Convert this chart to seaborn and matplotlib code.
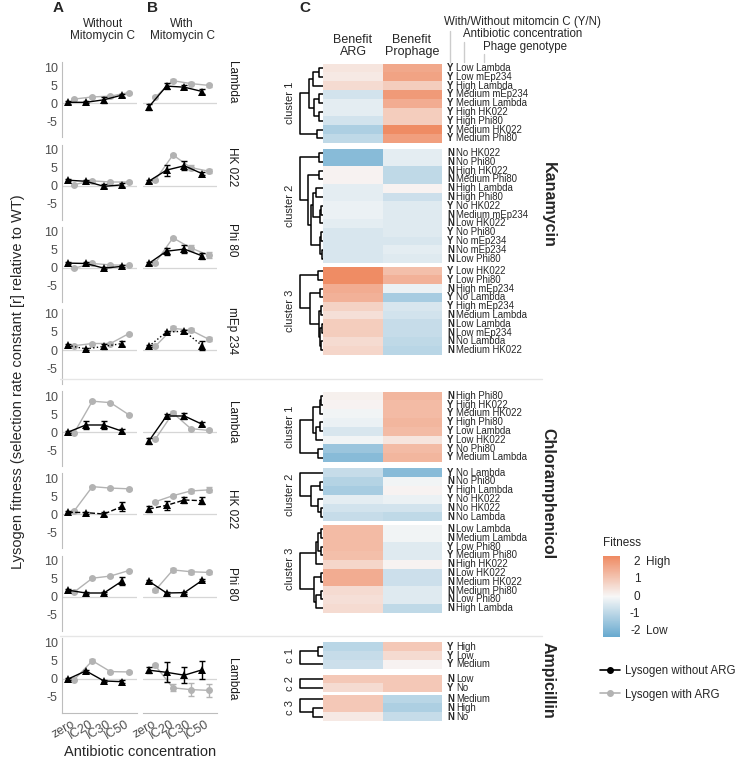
import numpy as np
import pandas as pd
import matplotlib.pyplot as plt
import seaborn as sns
from matplotlib.colors import LinearSegmentedColormap
from matplotlib.lines import Line2D
from matplotlib.transforms import blended_transform_factory

sns.set_style("white")
plt.rcParams['font.family'] = ['Liberation Sans', 'DejaVu Sans']
plt.rcParams['axes.unicode_minus'] = False

W, H = 747, 762

# ---------------- data: panels A / B ----------------
concs = ["zero", "IC20", "IC30", "IC50"]
row_phages = ["Lambda", "HK 022", "Phi 80", "mEp 234", "Lambda", "HK 022", "Phi 80", "Lambda"]

# mean fitness, A = without mitomycin C, B = with mitomycin C
noarg_A = [[0.3, 0.3, 1.0, 2.3], [1.5, 1.2, -0.2, 0.2], [1.3, 1.2, -0.1, 0.4], [1.3, 0.3, 1.0, 1.8],
           [0.0, 2.0, 2.0, 0.3], [0.6, 0.5, 0.1, 2.2], [1.8, 1.0, 1.0, 4.3], [-0.1, 2.2, -0.6, -0.8]]
arg_A = [[1.2, 1.8, 2.0, 3.0], [0.3, 1.3, 1.0, 1.0], [-0.1, 1.2, 0.8, 0.7], [1.2, 1.8, 1.8, 4.5],
         [-0.1, 8.6, 8.2, 4.9], [1.0, 7.7, 7.3, 7.1], [1.3, 5.1, 5.7, 7.2], [-0.2, 5.0, 2.0, 1.9]]
noarg_B = [[-1.0, 4.8, 4.5, 3.3], [1.2, 4.3, 5.5, 3.3], [1.2, 4.6, 5.2, 3.3], [1.0, 5.0, 5.2, 1.2],
           [-2.5, 4.5, 4.5, 2.2], [1.5, 2.5, 4.0, 3.8], [4.3, 1.0, 1.1, 4.5], [2.4, 1.8, 1.0, 2.5]]
arg_B = [[1.7, 6.3, 5.5, 5.0], [1.5, 8.5, 5.0, 4.0], [1.3, 8.3, 5.5, 3.5], [1.0, 6.0, 5.5, 3.0],
         [-2.0, 5.3, 1.0, 0.5], [3.5, 5.2, 6.5, 6.8], [1.7, 7.4, 6.9, 6.7], [3.7, -2.5, -3.0, -3.2]]

# standard errors
noarg_A_se = [[0.4, 0.3, 0.8, 0.4], [0.3, 0.3, 0.6, 0.6], [0.3, 0.3, 0.3, 0.3], [0.3, 0.3, 0.6, 0.6],
              [0.3, 1.2, 1.2, 0.5], [0.3, 0.3, 0.6, 1.2], [0.3, 0.4, 0.4, 1.2], [0.3, 0.3, 0.4, 0.5]]
arg_A_se = [[0.2, 0.2, 0.4, 0.3], [0.2, 0.2, 0.2, 0.2], [0.2, 0.2, 0.2, 0.2], [0.2, 0.2, 0.2, 0.2],
            [0.2, 0.2, 0.2, 0.2], [0.2, 0.2, 0.2, 0.2], [0.2, 0.2, 0.2, 0.2], [0.2, 0.4, 0.3, 0.3]]
noarg_B_se = [[0.8, 0.8, 0.5, 0.6], [0.4, 1.5, 1.3, 0.4], [0.3, 1.0, 1.0, 0.8], [0.3, 0.4, 0.4, 1.2],
              [0.8, 0.6, 0.8, 0.6], [0.8, 1.2, 0.8, 1.0], [0.3, 0.3, 0.3, 0.3], [0.8, 2.8, 2.3, 2.5]]
arg_B_se = [[0.3, 0.5, 0.4, 0.5], [0.3, 0.3, 0.6, 0.5], [0.2, 0.3, 0.8, 0.8], [0.3, 0.6, 0.5, 0.6],
            [0.3, 0.6, 0.3, 0.3], [0.3, 0.3, 0.6, 0.7], [0.4, 0.5, 0.6, 0.3], [0.5, 1.0, 1.8, 1.8]]

noarg_style = ['-', '-', '-', ':', '-', '--', '-', '-']

# ---------------- data: panel C heatmaps ----------------
kan_sizes = [9, 13, 10]
kan_mito = list("YYYYYYYYY") + list("NNNNNNYNNYYNN") + list("YYNYYNNNNN")
kan_labels = ["Low Lambda", "Low mEp234", "High Lambda", "Medium mEp234", "Medium Lambda", "High HK022",
              "High Phi80", "Medium HK022", "Medium Phi80",
              "No HK022", "No Phi80", "High HK022", "Medium Phi80", "High Lambda", "High Phi80", "No HK022",
              "Medium mEp234", "Low HK022", "No Phi80", "No mEp234", "No mEp234", "Low Phi80",
              "Low HK022", "Low Phi80", "High mEp234", "No Lambda", "High mEp234", "Medium Lambda",
              "Low Lambda", "Low mEp234", "No Lambda", "Medium HK022"]
kan_arg = [0.4, 0.3, 0.6, -0.6, -0.3, -0.3, -0.6, -1.2, -0.9,
           -1.8, -1.8, 0.1, 0.1, -0.3, -0.3, -0.2, -0.2, -0.3, -0.5, -0.5, -0.5, -0.5,
           2.3, 2.3, 1.6, 1.5, 0.8, 0.5, 0.9, 0.9, 0.6, 0.7]
kan_pro = [1.7, 1.8, 0.9, 2.0, 1.6, 0.9, 0.9, 2.3, 1.9,
           -0.3, -0.3, -0.9, -0.9, 0.1, -0.7, -0.4, -0.4, -0.4, -0.4, -0.5, -0.3, -0.4,
           1.2, 1.5, -0.2, -1.3, -0.5, -0.6, -0.8, -0.8, -0.9, -1.0]
kan_trees = [((((0, 1, .17), 2, .43), ((3, 4, .17), (5, 6, .17), .4), .62), (7, 8, .26), 1.0),
             ((0, 1, .17), ((2, 3, .17), (((4, 5, .3), ((6, 7, .08), 8, .14), .42),
                                          ((9, 10, .08), (11, 12, .06), .14), .5), .65), 1.0),
             ((0, 1, .2), ((2, 3, .12), ((4, 5, .1), ((6, 7, .06), (8, 9, .08), .12), .18), .55), 1.0)]

chl_sizes = [8, 6, 10]
chl_mito = list("NYYYYYYY") + list("YNYYNN") + list("NNYYNNNNNN")
chl_labels = ["High Phi80", "High HK022", "Medium HK022", "High Phi80", "Low Lambda", "Low HK022",
              "No Phi80", "Medium Lambda",
              "No Lambda", "No Phi80", "High Lambda", "No HK022", "No HK022", "No Lambda",
              "Low Lambda", "Medium Lambda", "Low Phi80", "Medium Phi80", "High HK022", "Low HK022",
              "Medium HK022", "Medium Phi80", "Low Phi80", "High Lambda"]
chl_arg = [0.15, 0.1, -0.1, -0.2, -0.5, -0.1, -1.5, -1.8,
           -0.8, -1.1, -1.3, -0.3, -0.6, -0.8,
           1.3, 1.3, 1.3, 1.2, 0.7, 1.6, 1.6, 0.6, 0.5, 0.6]
chl_pro = [1.4, 1.3, 1.3, 1.4, 1.3, 0.4, 1.3, 1.4,
           -1.8, -0.1, 0.1, -0.2, -0.6, -0.9,
           -0.1, -0.1, -0.4, -0.4, 0.1, -0.7, -0.7, -0.4, -0.4, -0.9]
chl_trees = [((((0, 1, .08), 2, .12), ((3, 4, .12), 5, .3), .45), (6, 7, .2), 1.0),
             (0, ((1, 2, .12), (3, (4, 5, .08), .2), .5), 1.0),
             ((((0, 1, .08), (2, 3, .1), .22), 4, .3), ((5, 6, .1), ((7, 8, .08), 9, .3), .4), 1.0)]

amp_sizes = [3, 2, 3]
amp_mito = list("YYY") + list("NY") + list("NNN")
amp_labels = ["High", "Low", "Medium", "Low", "No", "Medium", "High", "No"]
amp_arg = [-1.0, -0.8, -0.7, 1.0, 0.6, 1.0, 1.0, 0.3]
amp_pro = [1.0, 0.6, 0.1, 1.0, 1.0, -1.0, -1.2, -0.8]
amp_trees = [((0, 1, .2), 2, 1.0), (0, 1, 1.0), (0, (1, 2, .45), 1.0)]

fit_ticks = [-2, -1, 0, 1, 2]

# ---------------- figure helpers ----------------
fig = plt.figure(figsize=(W / 100, H / 100), dpi=100)


def add_ax(x0, y0, x1, y1):
    return fig.add_axes([x0 / W, 1 - y1 / H, (x1 - x0) / W, (y1 - y0) / H])


def ftext(x, y, s, **kw):
    fig.text(x / W, 1 - y / H, s, **kw)


def fline(xs, ys, **kw):
    fig.add_artist(Line2D([x / W for x in xs], [1 - y / H for y in ys], **kw))


grey_txt = '#4d4d4d'
arg_col = '#b3b3b3'

# ---------------- panels A and B ----------------
col_x = [(62, 137), (143, 217)]
row_top = [62.3 + 82.2 * i for i in range(8)]
strip_mid = [82, 167, 240, 331, 422, 509, 584, 679]
dodge = 0.18
xpos = np.arange(len(concs))

for r in range(8):
    for p, (x0, x1) in enumerate(col_x):
        ax = add_ax(x0, row_top[r], x1, row_top[r] + 75)
        na = noarg_A if p == 0 else noarg_B
        wa = arg_A if p == 0 else arg_B
        na_se = noarg_A_se if p == 0 else noarg_B_se
        wa_se = arg_A_se if p == 0 else arg_B_se
        ax.axhline(0, color='#d6d6d6', lw=0.9, zorder=0)
        df = pd.DataFrame({'x': np.concatenate([xpos - dodge, xpos + dodge]),
                           'fit': na[r] + wa[r],
                           'se': na_se[r] + wa_se[r],
                           'lys': ['without'] * 4 + ['with'] * 4})
        d1 = df[df.lys == 'with']
        sns.lineplot(data=d1, x='x', y='fit', ax=ax, color=arg_col, lw=1.0, marker='o',
                     markersize=5, markeredgewidth=0, zorder=2)
        ax.errorbar(d1.x, d1.fit, yerr=d1.se, fmt='none', ecolor=arg_col, elinewidth=1, capsize=2, zorder=2)
        d0 = df[df.lys == 'without']
        sns.lineplot(data=d0, x='x', y='fit', ax=ax, color='black', lw=1.0, marker='^',
                     markersize=5.5, markeredgewidth=0, linestyle=noarg_style[r], zorder=3)
        ax.errorbar(d0.x, d0.fit, yerr=d0.se, fmt='none', ecolor='black', elinewidth=1, capsize=2, zorder=3)
        ax.set_xlim(-0.5, 3.65)
        ax.set_ylim(-9.4, 11.4)
        ax.set_xlabel('')
        ax.set_ylabel('')
        for s in ['top', 'right']:
            ax.spines[s].set_visible(False)
        ax.spines['left'].set_visible(p == 0)
        ax.spines['left'].set_color('#bdbdbd')
        ax.set_yticks([-5, 0, 5, 10])
        if p == 0:
            ax.tick_params(axis='y', length=2, color='#bdbdbd', labelsize=9, labelcolor=grey_txt, pad=1)
        else:
            ax.tick_params(axis='y', left=False, labelleft=False)
        ax.set_xticks(xpos)
        if r == 7:
            ax.spines['bottom'].set_color('#bdbdbd')
            ax.tick_params(axis='x', length=3, color='#bdbdbd', labelsize=9, labelcolor=grey_txt, pad=1)
            ax.set_xticklabels(concs, rotation=30, ha='right', rotation_mode='anchor')
        else:
            ax.spines['bottom'].set_visible(False)
            ax.tick_params(axis='x', bottom=False, labelbottom=False)
    ftext(232, strip_mid[r], row_phages[r], rotation=-90, ha='center', va='center', fontsize=8.5, color='#1a1a1a')

ftext(58, 8, 'A', fontsize=11, fontweight='bold', ha='center', va='center')
ftext(153, 8, 'B', fontsize=11, fontweight='bold', ha='center', va='center')
ftext(103, 30, 'Without\nMitomycin C', fontsize=8.5, ha='center', va='center', linespacing=1.05)
ftext(182, 30, 'With\nMitomycin C', fontsize=8.5, ha='center', va='center', linespacing=1.05)
ftext(18, 382, 'Lysogen fitness (selection rate constant [r] relative to WT)', rotation=90,
      fontsize=10.5, ha='center', va='center')
ftext(140, 752, 'Antibiotic concentration', fontsize=10.5, ha='center', va='center')

# separators between antibiotic groups
for ysep in [379, 636]:
    fline([60, 542], [ysep, ysep], color='#e6e6e6', lw=1.0)

# ---------------- panel C ----------------
cmap = LinearSegmentedColormap.from_list('fit', ['#67a9cf', '#f7f7f7', '#ef8a62'])
vlim = 2.35
row_h = 8.8


def draw_tree(ax, node):
    if isinstance(node, int):
        return node + 0.5, 0.0
    left, right, h = node
    yl, hl = draw_tree(ax, left)
    yr, hr = draw_tree(ax, right)
    ax.plot([hl, h, h, hr], [yl, yl, yr, yr], color='black', lw=1.1, solid_capstyle='butt')
    return (yl + yr) / 2, h


blocks = [
    (kan_sizes, kan_mito, kan_labels, kan_arg, kan_pro, kan_trees, [63.6, 148.6, 266.5],
     ['cluster 1', 'cluster 2', 'cluster 3'], 'Kanamycin', 205),
    (chl_sizes, chl_mito, chl_labels, chl_arg, chl_pro, chl_trees, [391.5, 468.3, 524.5],
     ['cluster 1', 'cluster 2', 'cluster 3'], 'Chloramphenicol', 494),
    (amp_sizes, amp_mito, amp_labels, amp_arg, amp_pro, amp_trees, [642.4, 674.6, 694.6],
     ['c 1', 'c 2', 'c 3'], 'Ampicillin', 680),
]

hm_first = None
for sizes, mito, labels, argv, prov, trees, tops, cnames, abx, abx_y in blocks:
    start = 0
    for k, n in enumerate(sizes):
        top = tops[k]
        bot = top + n * row_h
        mat = pd.DataFrame({'Benefit ARG': argv[start:start + n], 'Benefit Prophage': prov[start:start + n]})
        hax = add_ax(323, top, 442, bot)
        sns.heatmap(mat, ax=hax, cmap=cmap, vmin=-vlim, vmax=vlim, cbar=False,
                    xticklabels=False, yticklabels=False)
        if hm_first is None:
            hm_first = hax.collections[0]
        tr = blended_transform_factory(hax.transAxes, hax.transData)
        for i in range(n):
            hax.text(1.042, i + 0.5, mito[start + i], transform=tr, fontsize=6.9, fontweight='bold',
                     va='center', ha='left')
            hax.text(1.12, i + 0.5, labels[start + i], transform=tr, fontsize=6.9, va='center', ha='left')
        dax = add_ax(297, top, 323, bot)
        draw_tree(dax, trees[k])
        dax.set_xlim(1.13, 0)
        dax.set_ylim(n, 0)
        dax.axis('off')
        ftext(290, (top + bot) / 2, cnames[k], rotation=90, fontsize=8, ha='center', va='center')
        start += n
    ftext(548, abx_y, abx, rotation=-90, fontsize=11.5, fontweight='bold', ha='center', va='center')

ftext(305, 8, 'C', fontsize=11, fontweight='bold', ha='center', va='center')
ftext(353, 46, 'Benefit\nARG', fontsize=9, ha='center', va='center', linespacing=1.05)
ftext(412, 46, 'Benefit\nProphage', fontsize=9, ha='center', va='center', linespacing=1.05)
ftext(444, 22, 'With/Without mitomcin C (Y/N)', fontsize=8.3, ha='left', va='center')
ftext(463, 34, 'Antibiotic concentration', fontsize=8.3, ha='left', va='center')
ftext(483, 47, 'Phage genotype', fontsize=8.3, ha='left', va='center')
for xl, y0 in [(450, 31), (464, 42), (484, 54)]:
    fline([xl, xl], [y0, 62], color='#cccccc', lw=1.0)

# colour legend
ftext(603, 543, 'Fitness', fontsize=8.5, ha='left', va='center')
cax = add_ax(603, 556, 620, 637)
cb = fig.colorbar(hm_first, cax=cax)
cb.outline.set_visible(False)
cb.set_ticks(fit_ticks)
cax.tick_params(axis='y', length=3.5, width=0.8, color='white', direction='in', left=True, right=True,
                labelleft=False, labelright=False)
ctr = blended_transform_factory(cax.transAxes, cax.transData)
for t in fit_ticks:
    cax.text(2.2, t, str(t), transform=ctr, fontsize=8.5, ha='right', va='center')
cax.text(2.55, 2, 'High', transform=ctr, fontsize=8.5, ha='left', va='center')
cax.text(2.55, -2, 'Low', transform=ctr, fontsize=8.5, ha='left', va='center')

# line legend
handles = [Line2D([0], [0], color='black', marker='o', ms=4, lw=1.2),
           Line2D([0], [0], color=arg_col, marker='o', ms=4, lw=1.2)]
fig.legend(handles, ['Lysogen without ARG', 'Lysogen with ARG'], loc='upper left',
           bbox_to_anchor=(600 / W, 1 - 665 / H), frameon=False, fontsize=8.3, handlelength=1.7,
           handletextpad=0.5, labelspacing=1.0, borderaxespad=0, borderpad=0)

fig.savefig('out.png', dpi=100)
